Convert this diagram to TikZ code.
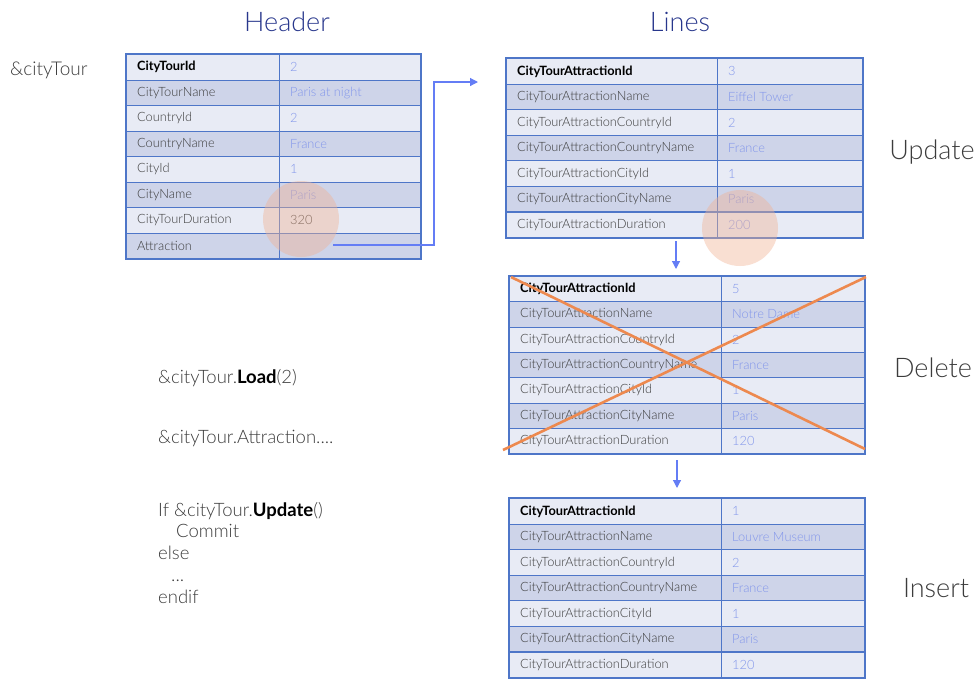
\documentclass[tikz,border=0pt]{standalone}
\usepackage{fontspec}
\setmainfont{Lato Light}[BoldFont={Lato Bold}]
\usetikzlibrary{arrows.meta}
\definecolor{tblue}{RGB}{78,118,200}
\definecolor{rowA}{RGB}{232,235,245}
\definecolor{rowB}{RGB}{206,212,233}
\definecolor{lblgray}{RGB}{60,60,60}
\definecolor{valblue}{RGB}{130,150,235}
\definecolor{navy}{RGB}{40,55,140}
\definecolor{conblue}{RGB}{100,125,245}
\definecolor{xorange}{RGB}{237,137,79}
\definecolor{hlorange}{RGB}{240,178,148}
\tikzset{
  cell/.style={draw=tblue, line width=1.1pt, inner sep=0pt, anchor=north west},
  outerb/.style={draw=tblue, line width=2pt},
  lbl/.style={font=\fontsize{12.8}{15}\selectfont, text=lblgray, anchor=west, inner sep=0pt},
  val/.style={font=\fontsize{12.8}{15}\selectfont, text=valblue, anchor=west, inner sep=0pt},
  heading/.style={font=\fontsize{27}{30}\selectfont, text=navy, inner sep=0pt},
  oplabel/.style={font=\fontsize{27}{30}\selectfont, text=lblgray, inner sep=0pt},
  code/.style={font=\fontsize{18.5}{22}\selectfont, text=lblgray, anchor=base west, inner sep=0pt},
  conn/.style={draw=conblue, line width=1.2pt, -{Triangle[length=8pt,width=8pt]}},
  hl/.style={circle, fill=hlorange, fill opacity=0.42, minimum size=76pt, inner sep=0pt},
  xline/.style={draw=xorange, line width=2.6pt}
}
\newcommand\mktable[8]{%
  \foreach \lab/\val [count=\i] in {#7} {
    \pgfmathsetmacro\yy{#5+(\i-1)*#6}
    \ifodd\i \def\rf{rowA}\else\def\rf{rowB}\fi
    \node[cell, fill=\rf, minimum width={#3-#2}, minimum height=#6] (#1-l\i) at (#2,\yy) {};
    \node[cell, fill=\rf, minimum width={#4-#3}, minimum height=#6] (#1-v\i) at (#3,\yy) {};
    \node[lbl] (#1-lt\i) at ([xshift=11pt]#1-l\i.west) {\ifnum\i=1 \bfseries\color{black}\fi\lab};
    \node[val] (#1-vt\i) at ([xshift=11pt]#1-v\i.west) {\val};
  }
  \draw[outerb] (#1-l1.north west) rectangle (#1-v#8.south east);
}
\begin{document}
\begin{tikzpicture}[x=1pt,y=-1pt]
\useasboundingbox (0,0) rectangle (980,683);

\node[heading] (hHeader) at (287,22) {Header};
\node[heading] (hLines) at (680,22) {Lines};
\node[font=\fontsize{19}{22}\selectfont, text=lblgray, anchor=west, inner sep=0pt] (var) at (10,70) {\&cityTour};

\mktable{hd}{126}{279}{420}{54}{25.5}{CityTourId/2, CityTourName/Paris at night, CountryId/2, CountryName/France, CityId/1, CityName/Paris, CityTourDuration/{\color{lblgray}320}, Attraction/{}}{8}

\mktable{ln}{506}{717}{862}{58}{25.57}{CityTourAttractionId/3, CityTourAttractionName/Eiffel Tower, CityTourAttractionCountryId/2, CityTourAttractionCountryName/France, CityTourAttractionCityId/1, CityTourAttractionCityName/Paris, CityTourAttractionDuration/200}{7}

\mktable{dl}{509}{721}{864}{276}{25.3}{CityTourAttractionId/5, CityTourAttractionName/Notre Dame, CityTourAttractionCountryId/2, CityTourAttractionCountryName/France, CityTourAttractionCityId/1, CityTourAttractionCityName/Paris, CityTourAttractionDuration/120}{7}

\mktable{in}{509}{721}{864}{498}{25.57}{CityTourAttractionId/1, CityTourAttractionName/Louvre Museum, CityTourAttractionCountryId/2, CityTourAttractionCountryName/France, CityTourAttractionCityId/1, CityTourAttractionCityName/Paris, CityTourAttractionDuration/120}{7}

% highlights
\node[hl] (hl1) at (301,219) {};
\node[hl] (hl2) at (740,228) {};

% connectors
\coordinate (cs) at (333,245);
\coordinate (ce) at (478,82);
\draw[conn] (cs) -- (434,245) |- (ce);
\coordinate (a1s) at (676,241);
\coordinate (a1e) at (676,269);
\draw[conn] (a1s) -- (a1e);
\coordinate (a2s) at (677,460);
\coordinate (a2e) at (677,488);
\draw[conn] (a2s) -- (a2e);

% cross
\coordinate (x1) at (511,277);
\coordinate (x2) at (865,449);
\coordinate (x3) at (866,277);
\coordinate (x4) at (503,450);
\draw[xline] (x1) -- (x2);
\draw[xline] (x3) -- (x4);

% operation labels
\node[oplabel] (opU) at (932,152) {Update};
\node[oplabel] (opD) at (933,368) {Delete};
\node[oplabel] (opI) at (936,588) {Insert};

% code
\node[code] (c1) at (158,383) {\&cityTour.{\bfseries\color{black}Load}(2)};
\node[code] (c2) at (158,443) {\&cityTour.Attraction....};
\node[code] (c3) at (158,516) {If \&cityTour.{\bfseries\color{black}Update}()};
\node[code] (c4) at (176,537) {Commit};
\node[code] (c5) at (158,559) {else};
\node[code] (c6) at (171,581) {...};
\node[code] (c7) at (158,603) {endif};
\end{tikzpicture}
\end{document}
